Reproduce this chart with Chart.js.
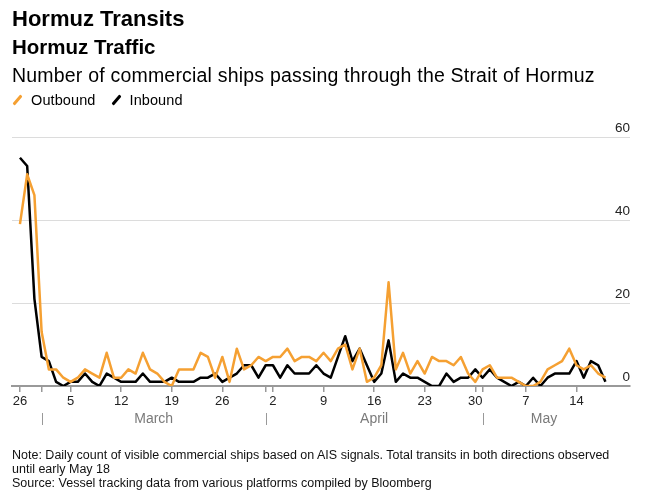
<!DOCTYPE html>
<html>
<head>
<meta charset="utf-8">
<script src="https://cdn.jsdelivr.net/npm/chart.js@4"></script>
<style>
  html, body { margin: 0; padding: 0; background: #fff; }
  #wrap { position: relative; width: 653px; height: 499px; font-family: "Liberation Sans", Arial, sans-serif; color: #000; }
  #wrap canvas { position: absolute; left: 0; top: 0; }
  .txt { position: absolute; left: 12px; white-space: nowrap; }
  #title { top: 8px; font-size: 22px; line-height: 22px; font-weight: bold; }
  #subtitle { top: 37px; font-size: 20.5px; line-height: 20px; font-weight: bold; }
  #desc { top: 66px; font-size: 19.5px; line-height: 18px; letter-spacing: 0.2px; }
  #legend { top: 93px; font-size: 14.5px; line-height: 14.5px; letter-spacing: 0.1px; }
  #legend span.key { display: inline-block; width: 3px; height: 12px; transform: rotate(40deg); margin: 0 12px -1px 4px; border-radius: 1px; }
  #legend span.item { margin-right: 15px; }
  #notes { top: 448px; font-size: 12.5px; line-height: 14px; color: #111; }
</style>
</head>
<body>
<div id="wrap">
  <canvas id="chart" width="653" height="499"></canvas>
  <div class="txt" id="title">Hormuz Transits</div>
  <div class="txt" id="subtitle">Hormuz Traffic</div>
  <div class="txt" id="desc">Number of commercial ships passing through the Strait of Hormuz</div>
  <div class="txt" id="legend"><span class="item"><span class="key" style="background:#f5a032"></span>Outbound</span><span class="item"><span class="key" style="background:#000"></span>Inbound</span></div>
  <div class="txt" id="notes">Note: Daily count of visible commercial ships based on AIS signals. Total transits in both directions observed<br>until early May 18<br>Source: Vessel tracking data from various platforms compiled by Bloomberg</div>
</div>
<script>
var dates = [
    'Feb 26', 'Feb 27', 'Feb 28',
    'Mar 1', 'Mar 2', 'Mar 3', 'Mar 4', 'Mar 5', 'Mar 6', 'Mar 7', 'Mar 8', 'Mar 9', 'Mar 10',
    'Mar 11', 'Mar 12', 'Mar 13', 'Mar 14', 'Mar 15', 'Mar 16', 'Mar 17', 'Mar 18', 'Mar 19', 'Mar 20',
    'Mar 21', 'Mar 22', 'Mar 23', 'Mar 24', 'Mar 25', 'Mar 26', 'Mar 27', 'Mar 28', 'Mar 29', 'Mar 30', 'Mar 31',
    'Apr 1', 'Apr 2', 'Apr 3', 'Apr 4', 'Apr 5', 'Apr 6', 'Apr 7', 'Apr 8', 'Apr 9', 'Apr 10',
    'Apr 11', 'Apr 12', 'Apr 13', 'Apr 14', 'Apr 15', 'Apr 16', 'Apr 17', 'Apr 18', 'Apr 19', 'Apr 20',
    'Apr 21', 'Apr 22', 'Apr 23', 'Apr 24', 'Apr 25', 'Apr 26', 'Apr 27', 'Apr 28', 'Apr 29', 'Apr 30',
    'May 1', 'May 2', 'May 3', 'May 4', 'May 5', 'May 6', 'May 7', 'May 8', 'May 9', 'May 10',
    'May 11', 'May 12', 'May 13', 'May 14', 'May 15', 'May 16', 'May 17', 'May 18'
];

var outbound = [
    39, 51, 46, 13, 4, 4, 2, 1, 2, 4, 3, 2, 8, 2, 2, 4, 3, 8, 4, 3,
    1, 0, 4, 4, 4, 8, 7, 2, 7, 1, 9, 4, 5, 7, 6, 7, 7, 9, 6, 7,
    7, 6, 8, 6, 9, 10, 4, 9, 1, 2, 5, 25, 4, 8, 3, 6, 3, 7, 6, 6,
    5, 7, 3, 1, 4, 5, 2, 2, 2, 1, 0, 0, 1, 4, 5, 6, 9, 5, 4, 5,
    3, 2
];

var inbound = [
    55, 53, 21, 7, 6, 1, 0, 1, 1, 3, 1, 0, 3, 2, 1, 1, 1, 3, 1, 1,
    1, 2, 1, 1, 1, 2, 2, 3, 1, 2, 3, 5, 5, 2, 5, 5, 2, 5, 3, 3,
    3, 5, 3, 2, 7, 12, 6, 9, 5, 1, 3, 11, 1, 3, 2, 2, 1, 0, 0, 3,
    1, 2, 2, 4, 2, 4, 2, 1, 0, 1, 0, 2, 0, 2, 3, 3, 3, 6, 2, 6,
    5, 1
];

var tickDates = ['Feb 26', 'Mar 5', 'Mar 12', 'Mar 19', 'Mar 26', 'Apr 2', 'Apr 9', 'Apr 16', 'Apr 23', 'Apr 30', 'May 7', 'May 14'];
var monthStarts = ['Mar 1', 'Apr 1', 'May 1'];
var monthNames = ['March', 'April', 'May'];
var yTicks = [0, 20, 40, 60];

var ORANGE = '#f5a032';

function toPoints(values) {
    return values.map(function(v, i) { return { x: i, y: v }; });
}

// month names and separators under the day labels
var monthPlugin = {
    id: 'months',
    afterDraw: function(chart) {
        var ctx = chart.ctx;
        var x = chart.scales.x;
        var bottom = chart.chartArea.bottom;
        ctx.save();
        ctx.strokeStyle = '#999';
        ctx.lineWidth = 1;
        ctx.fillStyle = '#7a7a7a';
        ctx.font = '14px "Liberation Sans", Arial, sans-serif';
        ctx.textAlign = 'center';
        ctx.textBaseline = 'middle';
        for (var k = 0; k < monthStarts.length; k++) {
            var start = dates.indexOf(monthStarts[k]);
            var end = k + 1 < monthStarts.length ? dates.indexOf(monthStarts[k + 1]) : dates.length - 1;
            var xs = Math.round(x.getPixelForValue(start)) + 0.5;
            ctx.beginPath();
            ctx.moveTo(xs, bottom + 27);
            ctx.lineTo(xs, bottom + 39);
            ctx.stroke();
            var xc = (x.getPixelForValue(start) + x.getPixelForValue(end)) / 2;
            ctx.fillText(monthNames[k], xc, bottom + 33);
        }
        ctx.restore();
    }
};

var ctx = document.getElementById('chart').getContext('2d');
var chart = new Chart(ctx, {
    type: 'line',
    data: {
        datasets: [{
            label: 'Outbound',
            data: toPoints(outbound),
            borderColor: ORANGE,
            borderWidth: 2.5,
            pointRadius: 0,
            tension: 0,
            borderJoinStyle: 'round',
            order: 0
        }, {
            label: 'Inbound',
            data: toPoints(inbound),
            borderColor: '#000',
            borderWidth: 2.5,
            pointRadius: 0,
            tension: 0,
            borderJoinStyle: 'round',
            order: 1
        }]
    },
    options: {
        responsive: false,
        animation: false,
        layout: {
            padding: { left: 12, right: 23, top: 137, bottom: 73 }
        },
        plugins: {
            legend: { display: false },
            tooltip: { enabled: false }
        },
        scales: {
            x: {
                type: 'linear',
                min: -1.1,
                max: 84.4,
                afterFit: function(scale) { scale.height = 40; },
                afterBuildTicks: function(scale) {
                    var vals = tickDates.concat(monthStarts).map(function(d) { return dates.indexOf(d); });
                    scale.ticks = vals.map(function(v) { return { value: v }; });
                },
                ticks: {
                    autoSkip: false,
                    maxRotation: 0,
                    padding: 2,
                    color: '#222',
                    font: { family: '"Liberation Sans", Arial, sans-serif', size: 13 },
                    callback: function(value) {
                        var d = dates[value];
                        if (tickDates.indexOf(d) < 0) return '';
                        return d.split(' ')[1];
                    }
                },
                grid: {
                    drawOnChartArea: false,
                    drawTicks: true,
                    tickLength: 6,
                    color: '#999',
                    lineWidth: 1.5
                },
                border: { display: true, color: '#999', width: 2 }
            },
            y: {
                position: 'right',
                min: 0,
                max: 60,
                afterFit: function(scale) { scale.width = 0; },
                afterBuildTicks: function(scale) {
                    scale.ticks = yTicks.map(function(v) { return { value: v }; });
                },
                ticks: {
                    mirror: true,
                    padding: 0,
                    labelOffset: -9,
                    color: '#222',
                    font: { family: '"Liberation Sans", Arial, sans-serif', size: 13.5 }
                },
                grid: {
                    color: '#dcdcdc',
                    lineWidth: 1,
                    drawTicks: false
                },
                border: { display: false }
            }
        }
    },
    plugins: [monthPlugin]
});
</script>
</body>
</html>
